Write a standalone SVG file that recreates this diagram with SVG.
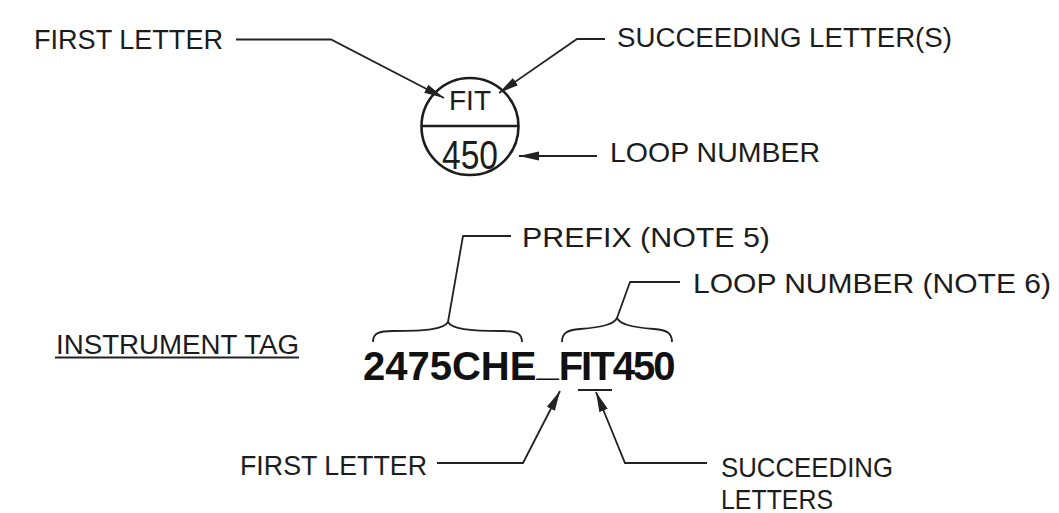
<svg xmlns="http://www.w3.org/2000/svg" width="1059" height="513" viewBox="0 0 1059 513">
  <defs>
    <marker id="arrow" markerUnits="userSpaceOnUse" markerWidth="22" markerHeight="10" refX="20" refY="4.5" orient="auto">
      <path d="M0,0 L20,4.5 L0,9 Z" fill="#222"/>
    </marker>
    <style>
      .lbl { font-family: "Liberation Sans", Arial, sans-serif; font-size: 28px; fill: #1c1c1c; }
      .big { font-family: "Liberation Sans", Arial, sans-serif; font-size: 40px; font-weight: bold; fill: #111; }
      .ln { fill: none; stroke: #222; stroke-width: 1.8; stroke-linejoin: round; }
      .arr { fill: none; stroke: #222; stroke-width: 1.8; marker-end: url(#arrow); }
    </style>
  </defs>
  <rect x="0" y="0" width="1059" height="513" fill="#ffffff"/>

  <!-- Instrument bubble -->
  <g id="bubble">
    <circle cx="470" cy="126.5" r="48.5" fill="none" stroke="#1c1c1c" stroke-width="2.6"/>
    <line x1="421.5" y1="126" x2="518.5" y2="126" stroke="#1c1c1c" stroke-width="2.6"/>
    <text class="lbl" x="470" y="110" text-anchor="middle" font-size="27">FIT</text>
    <text class="lbl" x="470" y="169" text-anchor="middle" style="font-size:40px" textLength="56" lengthAdjust="spacingAndGlyphs">450</text>
  </g>

  <g id="label-first-letter-top">
    <text class="lbl" x="34" y="49" style="font-size:27px" textLength="189" lengthAdjust="spacingAndGlyphs">FIRST LETTER</text>
  </g>
  <g id="label-succeeding-top">
    <text class="lbl" x="617" y="47" style="font-size:27px" textLength="335" lengthAdjust="spacingAndGlyphs">SUCCEEDING LETTER(S)</text>
  </g>
  <g id="label-loop-number-top">
    <text class="lbl" x="610" y="162" textLength="210" lengthAdjust="spacingAndGlyphs">LOOP NUMBER</text>
  </g>

  <g id="label-instrument-tag">
    <text class="lbl" x="56" y="354" style="font-size:27px" textLength="243" lengthAdjust="spacingAndGlyphs">INSTRUMENT TAG</text>
    <line x1="55" y1="357.5" x2="299" y2="357.5" stroke="#222" stroke-width="2"/>
  </g>

  <g id="tag">
    <text class="big" x="363" y="380">2475CHE<tspan dy="-5">_</tspan><tspan dy="5" style="letter-spacing:-2px">FIT450</tspan></text>
    <line x1="578" y1="390" x2="612" y2="390" stroke="#222" stroke-width="2"/>
  </g>

  <g id="label-prefix">
    <text class="lbl" x="522" y="247" textLength="248" lengthAdjust="spacingAndGlyphs">PREFIX (NOTE 5)</text>
  </g>
  <g id="label-loop-number-note">
    <text class="lbl" x="693" y="293" textLength="358" lengthAdjust="spacingAndGlyphs">LOOP NUMBER (NOTE 6)</text>
  </g>
  <g id="label-first-letter-bottom">
    <text class="lbl" x="240" y="475" textLength="187" lengthAdjust="spacingAndGlyphs">FIRST LETTER</text>
  </g>
  <g id="label-succeeding-bottom">
    <text class="lbl" x="721" y="477" textLength="172" lengthAdjust="spacingAndGlyphs">SUCCEEDING</text>
    <text class="lbl" x="721" y="509" textLength="112" lengthAdjust="spacingAndGlyphs">LETTERS</text>
  </g>

  <g id="connectors">
    <path class="arr" d="M236,39.5 L331,39.5 L444,98"/>
    <path class="arr" d="M605,39 L577,39 L499,93"/>
    <path class="arr" d="M597,156 L519,156"/>
    <!-- prefix brace and leader -->
    <path class="ln" d="M373,342 C373,333 379,331 393,331 C428,331 444,329 448,322 C452,329 468,331 502,331 C516,331 522,333 522,342"/>
    <path class="ln" d="M448,322 L463,236 L511,236"/>
    <!-- loop number brace and leader -->
    <path class="ln" d="M562,342 C562,333 567,330 580,329 C604,327 614,324 617,318 C620,324 630,327 654,329 C667,330 672,333 672,342"/>
    <path class="ln" d="M617,318 L630,282 L680,282"/>
    <!-- bottom arrows -->
    <path class="arr" d="M437,463 L523,463 L560,391"/>
    <path class="arr" d="M707,463 L625,463 L596,392"/>
  </g>
</svg>
